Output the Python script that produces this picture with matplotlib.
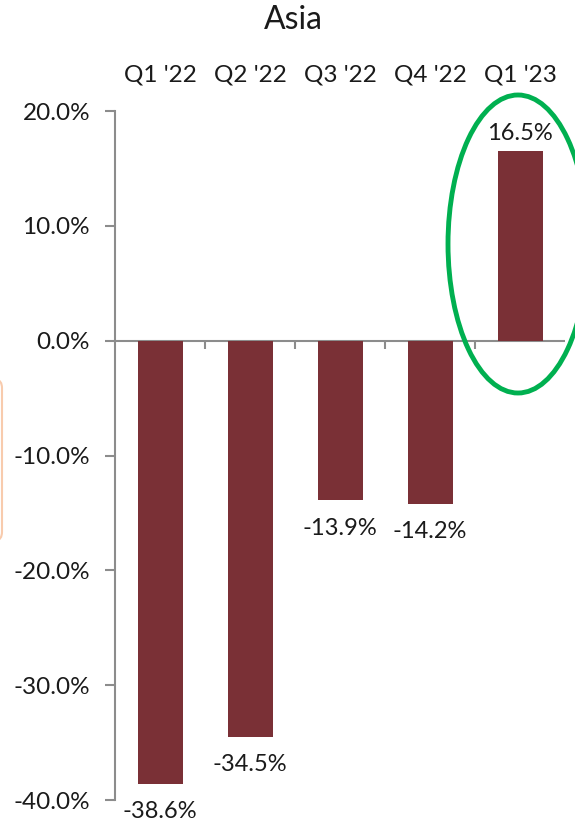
import matplotlib.pyplot as plt
from matplotlib.patches import Ellipse, FancyBboxPatch
import numpy as np

quarters = ["Q1 '22", "Q2 '22", "Q3 '22", "Q4 '22", "Q1 '23"]
growth = [-38.6, -34.5, -13.9, -14.2, 16.5]  # percent
y_ticks = [20, 10, 0, -10, -20, -30, -40]

bar_color = '#7A3036'
axis_grey = '#8C8C8C'
text_col = '#1A1A1A'
plt.rcParams['font.family'] = ['Lato', 'DejaVu Sans']

W, H = 575, 822
fig = plt.figure(figsize=(W / 100, H / 100), dpi=100)
ax = fig.add_axes([115 / W, 1 - 800 / H, 450 / W, 689 / H])

x = np.arange(len(quarters))
vals = np.array(growth) / 100
ax.bar(x, vals, width=0.5, color=bar_color, zorder=2)

ax.set_xlim(-0.5, len(quarters) - 0.5)
ax.set_ylim(-0.40, 0.20)

# y axis on the left only
for s in ['top', 'right', 'bottom']:
    ax.spines[s].set_visible(False)
ax.spines['left'].set_color(axis_grey)
ax.spines['left'].set_linewidth(1.5)
ax.set_yticks(np.array(y_ticks) / 100)
ax.set_yticklabels([f'{t:.1f}%' for t in y_ticks], fontsize=17.5, color=text_col)
ax.tick_params(axis='y', length=7, width=1.5, color=axis_grey, pad=11)
ax.set_xticks([])

# zero line with category separators
ax.axhline(0, color=axis_grey, lw=1.5, zorder=1)
seps = x[:-1] + 0.5
ax.vlines(seps, -0.007, 0, color=axis_grey, lw=1.5)

# category labels above the plot
for xi, q in zip(x, quarters):
    ax.text(xi, 1 + 36 / 689, q, transform=ax.get_xaxis_transform(),
            ha='center', va='center', fontsize=17.5, color=text_col)

# data labels
for xi, v in zip(x, growth):
    off = 13 if v > 0 else -20
    ax.annotate(f'{v:.1f}%', (xi, v / 100), xytext=(0, off), textcoords='offset points',
                ha='center', va='center', fontsize=17, color=text_col)

fig.text(293 / W, 1 - 20 / H, 'Asia', ha='center', va='center', fontsize=23, color=text_col)

# highlight for latest quarter
ell = Ellipse((518 / W, 1 - 244 / H), 140 / W, 298 / H, transform=fig.transFigure,
              fill=False, edgecolor='#00B050', lw=3.5, clip_on=False)
fig.add_artist(ell)

# piece of neighbouring box at the left edge
box = FancyBboxPatch((-60 / W, 1 - 540 / H), 62 / W, 160 / H, transform=fig.transFigure,
                     boxstyle='round,pad=0,rounding_size=0.01', fill=False,
                     edgecolor='#F8CBAD', lw=1.5)
fig.add_artist(box)

fig.savefig('out.png', dpi=100)
